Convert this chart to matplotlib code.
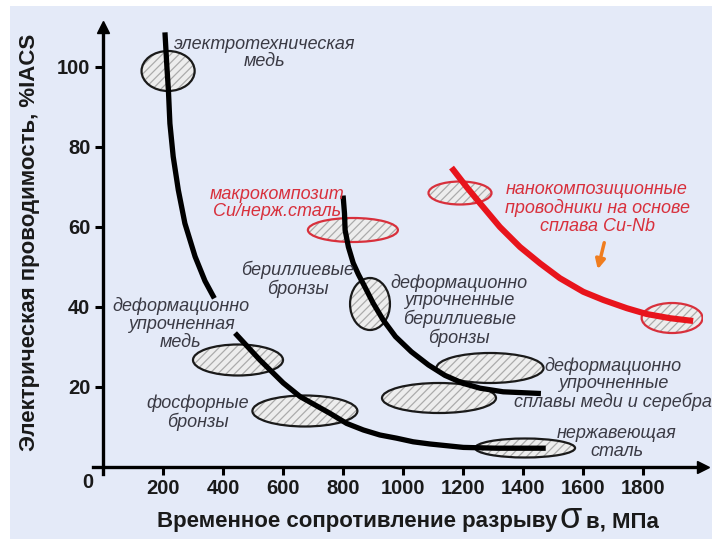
import numpy as np
import matplotlib
matplotlib.use("Agg")
import matplotlib.pyplot as plt
from matplotlib.patches import Ellipse, Rectangle

plt.rcParams['font.family'] = ['Liberation Sans', 'DejaVu Sans']
plt.rcParams['hatch.linewidth'] = 0.9

# curves: strength (MPa) vs conductivity (%IACS); nan = break in the drawn curve
copper_x = [207, 213, 218, 223, 234, 251, 273, 307, 340, 367, np.nan,
            446, 523, 601, 657, 757, 812, 868, 923, 979, 1034, 1090, 1201, 1312, 1467]
copper_y = [108, 100, 94.25, 85.9, 77.6, 69.25, 60.9, 52.6, 46.5, 42.75, np.nan,
            33, 26.75, 21.0, 17.6, 13.4, 10.9, 9.25, 8, 7.2, 6.3, 5.75, 4.9, 4.7, 4.7]
macro_x = [801, 805, 807, 818, 834, 851, 873, 901, 934, 975, 1028, 1085, 1140, 1201, 1257, 1334, 1451]
macro_y = [67.2, 63.4, 59.25, 55, 51, 48.2, 45, 40.9, 36.75, 32.6, 28.8, 25.5, 22.9, 20.9, 19.7, 18.8, 18.4]
nano_x = [1168, 1212, 1257, 1323, 1390, 1457, 1523, 1601, 1668, 1746, 1812, 1890, 1957]
nano_y = [74.25, 70, 65.9, 60, 55, 50.9, 47.2, 43.8, 41.75, 39.7, 38.25, 37.2, 36.6]

# material regions: centre x, centre y, width, height
black_regions = [(217, 99, 177, 10), (890, 40.75, 133, 13), (450, 26.75, 300, 7.75),
                 (673, 14, 350, 7.75), (1290, 24.75, 357, 7.5), (1120, 17.25, 380, 7.5),
                 (1407, 4.75, 333, 4.75)]
red_regions = [(833, 59.25, 300, 6), (1190, 68.5, 210, 5.75), (1897, 37.25, 203, 7.5)]

labels_dark = [("электротехническая\nмедь", 540, 103.5),
               ("бериллиевые\nбронзы", 650, 47),
               ("деформационно\nупрочненные\nбериллиевые\nбронзы", 1187, 39.1),
               ("деформационно\nупрочненная\nмедь", 260, 35.75),
               ("фосфорные\nбронзы", 317, 13.6),
               ("деформационно\nупрочненные\nсплавы меди и серебра", 1700, 20.75),
               ("нержавеющая\nсталь", 1713, 6.1)]
labels_red = [("макрокомпозит\nCu/нерж.сталь", 580, 66),
              ("нанокомпозиционные\nпроводники на основе\nсплава Cu-Nb", 1647, 64.75)]

xticks = [200, 400, 600, 800, 1000, 1200, 1400, 1600, 1800]
yticks = [20, 40, 60, 80, 100]

bg = '#e4eaf8'
dark = '#3a3a44'
red = '#d8303c'

fig = plt.figure(figsize=(7.12, 5.39), dpi=100, facecolor='white')
fig.patches.append(Rectangle((10 / 712, 0), 1, 1 - 6 / 539, transform=fig.transFigure,
                             facecolor=bg, edgecolor='none', zorder=-10))
ax = fig.add_axes([103 / 712, 72 / 539, 600 / 712, 440 / 539])
ax.set_facecolor('none')
ax.set_xlim(0, 2000)
ax.set_ylim(0, 110)
for s in ax.spines.values():
    s.set_visible(False)

# axes with arrows
ax.plot([-0.017, 1], [0, 0], color='black', lw=2.4, transform=ax.transAxes, clip_on=False, zorder=5)
ax.plot([0, 0], [-0.015, 1], color='black', lw=2.4, transform=ax.transAxes, clip_on=False, zorder=5)
ax.plot(1, 0, '>', color='black', ms=9, transform=ax.transAxes, clip_on=False, zorder=6)
ax.plot(0, 1, '^', color='black', ms=9, transform=ax.transAxes, clip_on=False, zorder=6)

ax.set_xticks(xticks)
ax.set_yticks(yticks)
ax.tick_params(direction='out', length=6, width=2.2, labelsize=14.5, pad=3)
for lab in ax.get_xticklabels() + ax.get_yticklabels():
    lab.set_fontweight('bold')
    lab.set_color('#1a1a1a')
ax.text(-50, -3.75, "0", ha='center', va='center', fontsize=14.5, fontweight='bold',
        color='#1a1a1a', clip_on=False)

def region(cx, cy, w, h, edge):
    ax.add_patch(Ellipse((cx, cy), w, h, facecolor='#ededed', edgecolor='#ababab',
                         hatch='////', lw=0, zorder=2))
    ax.add_patch(Ellipse((cx, cy), w, h, facecolor='none', edgecolor=edge, lw=1.6, zorder=3))

for r in black_regions:
    region(*r, '#1a1a1a')
for r in red_regions:
    region(*r, red)

ax.plot(copper_x, copper_y, color='black', lw=3.8, zorder=4)
ax.plot(macro_x, macro_y, color='black', lw=3.8, zorder=4)
ax.plot(nano_x, nano_y, color='#e8141c', lw=4.4, zorder=4)

for txt, x, y in labels_dark:
    ax.text(x, y, txt, ha='center', va='center', fontsize=13, style='italic',
            color=dark, linespacing=1.05, zorder=7)
for txt, x, y in labels_red:
    ax.text(x, y, txt, ha='center', va='center', fontsize=13, style='italic',
            color=red, linespacing=1.05, zorder=7)

ax.annotate('', xy=(1647, 48.75), xytext=(1673, 56.75),
            arrowprops=dict(arrowstyle='-|>', color='#f07d1e', lw=2.5, mutation_scale=14))

# axis titles
fig.text(30 / 712, 1 - 242 / 539, "Электрическая проводимость, %IACS", rotation=90,
         ha='center', va='center', fontsize=16, fontweight='bold', color='#1a1a1a')
ylab = 1 - 522 / 539
fig.text(557 / 712, ylab, "Временное сопротивление разрыву", ha='right', va='center',
         fontsize=16, fontweight='bold', color='#1a1a1a')
fig.text(571 / 712, 1 - 519 / 539, "σ", ha='center', va='center', fontsize=26, color='#1a1a1a')
fig.text(586 / 712, ylab, "в, МПа", ha='left', va='center',
         fontsize=16, fontweight='bold', color='#1a1a1a')

fig.savefig('out.png', dpi=100)
